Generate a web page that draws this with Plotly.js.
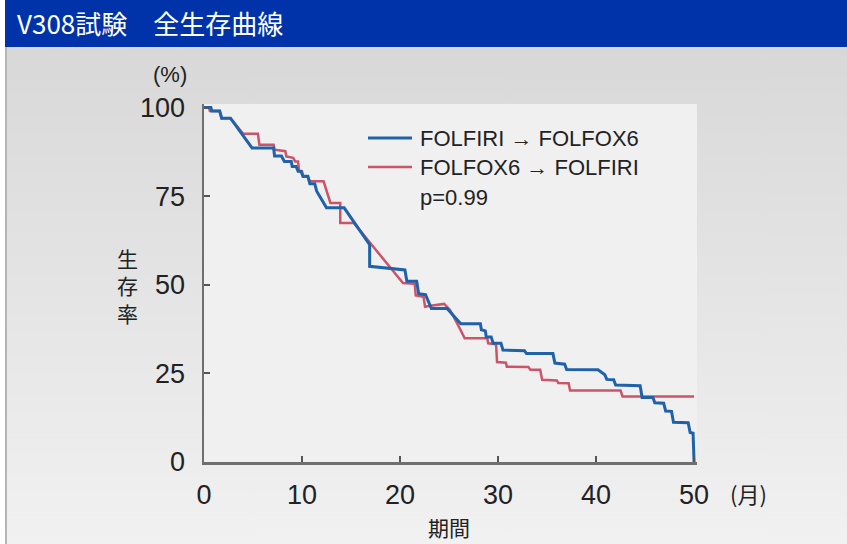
<!DOCTYPE html>
<html><head><meta charset="utf-8">
<script src="https://cdn.plot.ly/plotly-3.0.1.min.js"></script>
<style>
html,body{margin:0;padding:0;background:#fff;}
#wrap{position:relative;width:847px;height:544px;overflow:hidden;}
#bg{position:absolute;left:5px;top:47px;width:842px;height:497px;background:linear-gradient(#d8d8d8,#f1f1f1);border-left:2px solid #b5b5b5;box-sizing:border-box;}
#chart{position:absolute;left:0;top:0;width:847px;height:544px;}
</style></head><body>
<div id="wrap"><div id="bg"></div><div id="chart"></div></div>
<script>
// ---- data ----
const chartTitle = 'V308試験　全生存曲線';
const seriesNames = ['FOLFIRI → FOLFOX6', 'FOLFOX6 → FOLFIRI'];
const pValueText = 'p=0.99';
const xTicks = [0, 10, 20, 30, 40, 50];
const yTicks = [0, 25, 50, 75, 100];
const xLabel = '期間';
const yLabel = '生存率';
const xUnit = '(月)';
const yUnit = '(%)';

// FOLFIRI -> FOLFOX6 (blue)
const blueMonths = [0,0.7,0.8,1.6,1.8,2.7,4.9,7.1,7.2,7.9,8.2,8.9,9.0,9.4,9.6,9.9,10.1,10.6,10.8,11.3,11.5,12.5,14.3,16.9,16.9,20.5,20.7,21.7,21.9,22.6,23.2,24.8,26.2,28.2,28.3,28.7,28.8,29.3,29.5,30.3,30.5,32.7,32.9,35.6,35.8,36.8,37.0,40.2,40.9,41.1,41.8,42.0,44.5,44.7,45.8,46.0,46.9,47.1,47.7,47.9,49.4,49.6,49.9,50];
const blueSurv   = [100,100,99,99,97,97,88.6,88.6,86.3,86.3,84.8,84.8,83.4,83.4,82,82,80.6,80.6,78.5,78.5,76.4,71.7,71.7,61.3,55.2,54.2,51,51,47.5,47.2,43.3,43.3,39,39,37.3,37,35.3,35.3,33.5,33.5,31.6,31.4,30.6,30.6,27.9,27.6,26.1,26,24.6,23.3,23.2,21.7,21.5,18.2,18.2,16.7,16.6,14.4,14.3,11.2,11.1,8.3,8.1,0];

// FOLFOX6 -> FOLFIRI (red)
const redMonths = [0,0.5,0.6,1.6,1.8,2.7,4.0,5.5,5.65,7.1,7.2,8.3,8.4,9.1,9.3,9.6,9.7,10.0,10.1,10.6,10.8,12.2,12.9,13.9,13.9,15.3,20.3,21.5,21.6,22.4,22.55,23.1,24.5,25.1,26.0,26.6,28.9,29.0,29.8,29.9,30.8,30.9,33.1,33.3,34.3,34.5,36.0,36.15,37.2,37.35,42.5,42.7,50];
const redSurv   = [100,100,99,99,97,97,92.6,92.6,89.5,89.5,88.1,87.7,86.2,85.8,84.8,84.8,82,82,80.5,80.5,79.2,79.2,73.1,73.1,67.4,67.4,50.5,50.3,47,46.6,43.8,44.1,44.6,42.9,38.2,34.9,34.9,33.5,33.2,28.2,28,26.9,26.8,26,26,23.2,23,22.3,22.2,20.2,20.2,18.5,18.5];

// ---- styles ----
const blueColor = '#1f62aa';
const redColor = '#cc5468';
const latin = 'Liberation Sans, Arial, sans-serif';
const cjk = 'Noto Sans CJK JP, sans-serif';

const traces = [
  {x: redMonths, y: redSurv, mode: 'lines', name: seriesNames[1],
   line: {color: redColor, width: 2.5, shape: 'linear'}, hoverinfo: 'skip'},
  {x: blueMonths, y: blueSurv, mode: 'lines', name: seriesNames[0],
   line: {color: blueColor, width: 3, shape: 'linear'}, hoverinfo: 'skip'}
];

// layout geometry (pixels)
const W = 847, H = 544;
const L = 204, R = 150, T = 104, B = 82;
const pw = W - L - R, ph = H - T - B;
const px = v => (v - L) / pw;          // pixel x -> paper
const py = v => (H - B - v) / ph;      // pixel y -> paper

const legendY = [138, 167];
const shapes = [
  {type: 'rect', xref: 'paper', yref: 'paper', x0: px(5), x1: px(847), y0: py(47), y1: py(0),
   fillcolor: '#0033aa', line: {width: 0}, layer: 'below'},
  {type: 'line', xref: 'paper', yref: 'paper', x0: px(368), x1: px(412), y0: py(legendY[0]), y1: py(legendY[0]),
   line: {color: blueColor, width: 3}},
  {type: 'line', xref: 'paper', yref: 'paper', x0: px(368), x1: px(412), y0: py(legendY[1]), y1: py(legendY[1]),
   line: {color: redColor, width: 2.5}}
];

const legFont = {family: latin, size: 22, color: '#222'};
const annotations = [
  {text: seriesNames[0], xref: 'paper', yref: 'paper', x: px(418), y: py(legendY[0]), xanchor: 'left', yanchor: 'middle',
   showarrow: false, font: legFont},
  {text: seriesNames[1], xref: 'paper', yref: 'paper', x: px(418), y: py(legendY[1]), xanchor: 'left', yanchor: 'middle',
   showarrow: false, font: legFont},
  {text: pValueText, xref: 'paper', yref: 'paper', x: px(418), y: py(197), xanchor: 'left', yanchor: 'middle',
   showarrow: false, font: legFont},
  {text: yUnit, xref: 'paper', yref: 'paper', x: px(170), y: py(75), xanchor: 'center', yanchor: 'middle',
   showarrow: false, font: {family: latin, size: 22, color: '#222'}},
  {text: xUnit, xref: 'paper', yref: 'paper', x: px(748), y: py(493), xanchor: 'center', yanchor: 'middle',
   showarrow: false, font: {family: cjk, size: 22, color: '#222'}},
  {text: yLabel.split('').join('<br>'), xref: 'paper', yref: 'paper', x: px(127), y: py(285), xanchor: 'center', yanchor: 'middle',
   showarrow: false, font: {family: cjk, size: 21, color: '#222'}},
  {text: xLabel, xref: 'paper', yref: 'paper', x: px(449), y: py(527), xanchor: 'center', yanchor: 'middle',
   showarrow: false, font: {family: cjk, size: 21, color: '#222'}}
];

const layout = {
  width: W, height: H,
  margin: {l: L, r: R, t: T, b: B, pad: 0},
  paper_bgcolor: 'rgba(0,0,0,0)',
  plot_bgcolor: '#f0f0f0',
  showlegend: false,
  title: {text: chartTitle, xref: 'container', yref: 'container', x: 17 / W, xanchor: 'left',
          y: 1 - 25 / H, yanchor: 'middle', font: {family: cjk, size: 26, color: '#ffffff'}},
  xaxis: {range: [0, 50.3], tickvals: xTicks, ticktext: xTicks.map(String),
          showgrid: false, zeroline: false, showline: true, linecolor: '#6f6f6f', linewidth: 2.5,
          ticks: 'inside', ticklen: 6, tickwidth: 2, tickcolor: '#555',
          tickfont: {family: latin, size: 27, color: '#222'}, ticklabelstandoff: 7, fixedrange: true},
  yaxis: {range: [0, 101], tickvals: yTicks, ticktext: yTicks.map(String),
          showgrid: false, zeroline: false, showline: true, linecolor: '#6f6f6f', linewidth: 2.5,
          ticks: 'inside', ticklen: 6, tickwidth: 2, tickcolor: '#555',
          tickfont: {family: latin, size: 27, color: '#222'}, ticklabelstandoff: 11, fixedrange: true},
  shapes: shapes,
  annotations: annotations
};

Plotly.newPlot('chart', traces, layout, {staticPlot: true, displayModeBar: false});
</script>
</body></html>
